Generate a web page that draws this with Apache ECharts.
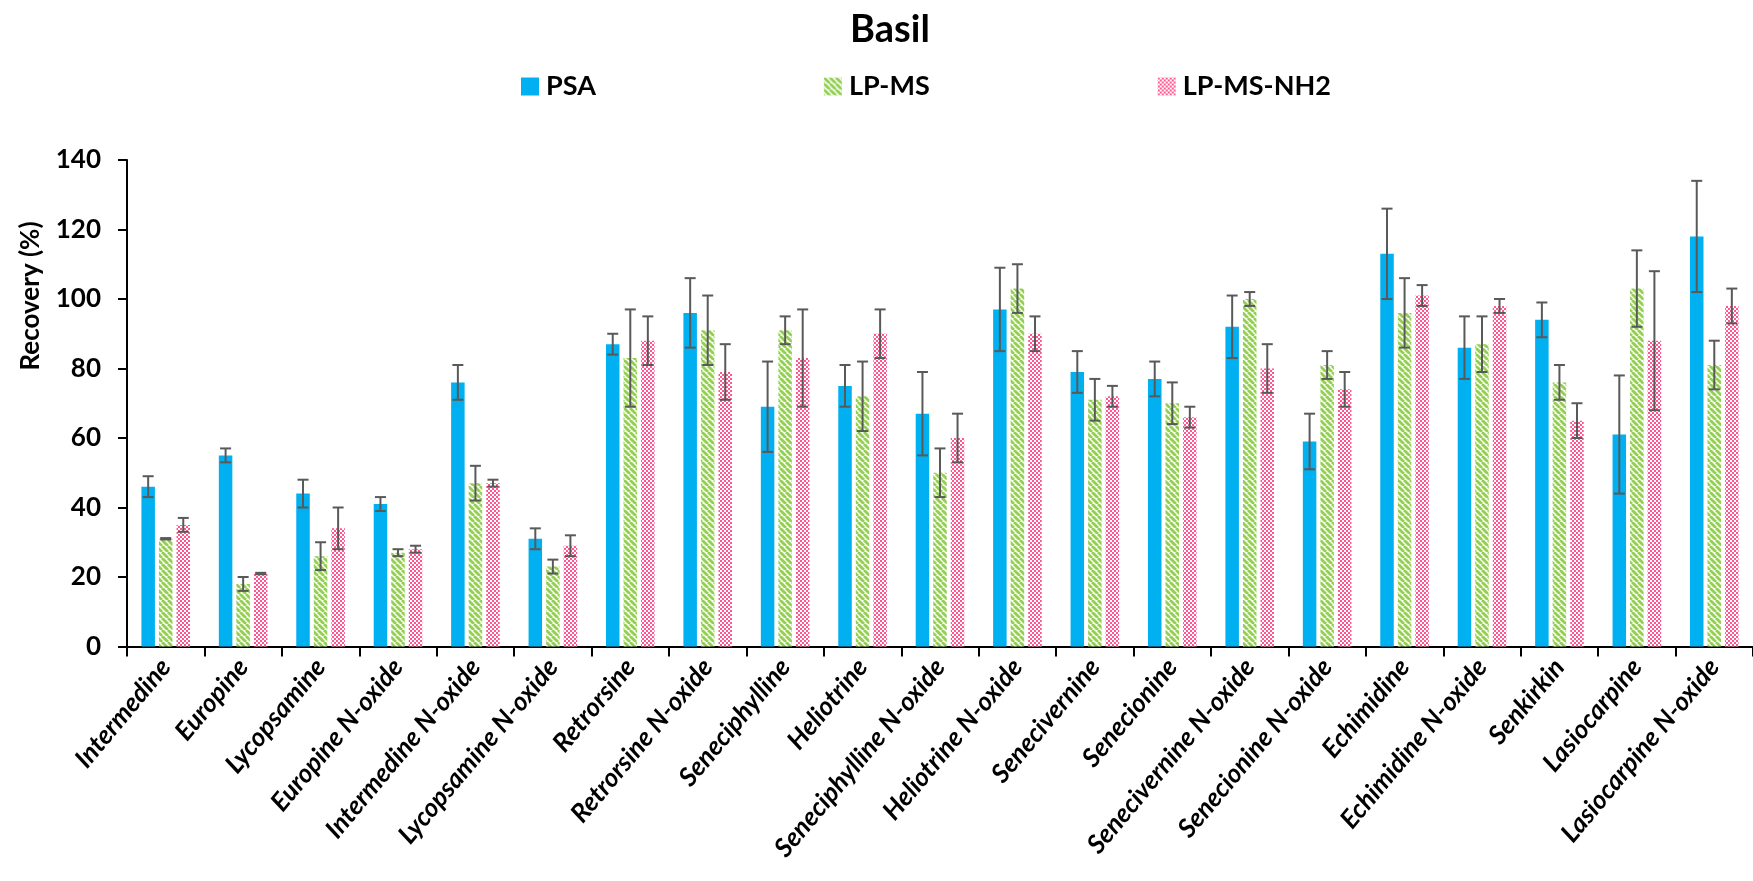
<!DOCTYPE html>
<html>
<head>
<meta charset="utf-8">
<script src="https://cdn.jsdelivr.net/npm/echarts@6/dist/echarts.min.js"></script>
<style>
html,body{margin:0;padding:0;background:#fff;}
#chart{width:1753px;height:881px;}
</style>
</head>
<body>
<div id="chart"></div>
<script>
const categories = ['Intermedine','Europine','Lycopsamine','Europine N-oxide','Intermedine N-oxide','Lycopsamine N-oxide','Retrorsine','Retrorsine N-oxide','Seneciphylline','Heliotrine','Seneciphylline N-oxide','Heliotrine N-oxide','Senecivernine','Senecionine','Senecivernine N-oxide','Senecionine N-oxide','Echimidine','Echimidine N-oxide','Senkirkin','Lasiocarpine','Lasiocarpine N-oxide'];
const seriesNames = ['PSA','LP-MS','LP-MS-NH2'];
const psa      = [46, 55, 44, 41, 76, 31, 87, 96, 69, 75, 67, 97, 79, 77, 92, 59, 113, 86, 94, 61, 118];
const psaErr   = [3, 2, 4, 2, 5, 3, 3, 10, 13, 6, 12, 12, 6, 5, 9, 8, 13, 9, 5, 17, 16];
const lpms     = [31, 18, 26, 27, 47, 23, 83, 91, 91, 72, 50, 103, 71, 70, 100, 81, 96, 87, 76, 103, 81];
const lpmsErr  = [0.2, 2, 4, 1, 5, 2, 14, 10, 4, 10, 7, 7, 6, 6, 2, 4, 10, 8, 5, 11, 7];
const nh2      = [35, 21, 34, 28, 47, 29, 88, 79, 83, 90, 60, 90, 72, 66, 80, 74, 101, 98, 65, 88, 98];
const nh2Err   = [2, 0.2, 6, 1, 1, 3, 7, 8, 14, 7, 7, 5, 3, 3, 7, 5, 3, 2, 5, 20, 5];
const yMin = 0, yMax = 140, yInterval = 20;
const yTitle = 'Recovery (%)';
const chartTitle = 'Basil';

const FONT = 'Lato, "Open Sans", "Noto Sans", sans-serif';
const BAR_W = 13.5, BAR_GAP = 0.3;
const BAR_STEP = BAR_W * (1 + BAR_GAP);

function stripeTile() {
  const c = document.createElement('canvas');
  c.width = 6; c.height = 6;
  const g = c.getContext('2d');
  g.fillStyle = '#ffffff'; g.fillRect(0, 0, 6, 6);
  g.strokeStyle = '#92D050'; g.lineWidth = 2.8;
  for (let k = -6; k <= 6; k += 6) {
    g.beginPath(); g.moveTo(k, 0); g.lineTo(k + 6, 6); g.stroke();
  }
  return c;
}
function checkerTile() {
  const c = document.createElement('canvas');
  c.width = 4; c.height = 4;
  const g = c.getContext('2d');
  g.fillStyle = '#ffffff'; g.fillRect(0, 0, 4, 4);
  g.fillStyle = '#FF5590';
  g.fillRect(0, 0, 2, 2); g.fillRect(2, 2, 2, 2);
  return c;
}
const fills = [
  '#00B0F0',
  { image: stripeTile(), repeat: 'repeat' },
  { image: checkerTile(), repeat: 'repeat' }
];
const values = [psa, lpms, nh2];
const errs = [psaErr, lpmsErr, nh2Err];

function errRender(k) {
  return function (params, api) {
    const i = api.value(0);
    const lo = api.coord([i, api.value(1)]);
    const hi = api.coord([i, api.value(2)]);
    const x = lo[0] + (k - 1) * BAR_STEP;
    const hw = 5.5;
    const st = { stroke: '#595959', lineWidth: 2 };
    return {
      type: 'group',
      children: [
        { type: 'line', shape: { x1: x, y1: hi[1], x2: x, y2: lo[1] }, style: st },
        { type: 'line', shape: { x1: x - hw, y1: hi[1], x2: x + hw, y2: hi[1] }, style: st },
        { type: 'line', shape: { x1: x - hw, y1: lo[1], x2: x + hw, y2: lo[1] }, style: st }
      ]
    };
  };
}

const series = [];
seriesNames.forEach((name, k) => {
  series.push({
    name: name,
    type: 'bar',
    data: values[k],
    barWidth: BAR_W,
    barGap: (BAR_GAP * 100) + '%',
    itemStyle: { color: fills[k] },
    emphasis: { disabled: true },
    z: 2
  });
});
seriesNames.forEach((name, k) => {
  series.push({
    name: name + ' err',
    type: 'custom',
    renderItem: errRender(k),
    data: values[k].map((v, i) => [i, v - errs[k][i], v + errs[k][i]]),
    encode: { x: 0, y: [1, 2] },
    z: 5,
    silent: true
  });
});

const chart = echarts.init(document.getElementById('chart'), null, { renderer: 'canvas' });
chart.setOption({
  animation: false,
  backgroundColor: '#ffffff',
  textStyle: { fontFamily: FONT },
  title: {
    text: chartTitle,
    left: 885,
    textAlign: 'center',
    top: 6,
    textStyle: { fontFamily: FONT, fontWeight: 'bold', fontSize: 38, color: '#000' }
  },
  legend: {
    data: seriesNames,
    left: 516,
    top: 68,
    itemWidth: 18,
    itemHeight: 18,
    itemGap: 228,
    icon: 'rect',
    selectedMode: false,
    textStyle: { fontFamily: FONT, fontWeight: 'bold', fontSize: 27, color: '#000', padding: [0, 0, 0, 2] }
  },
  graphic: [{
    type: 'text',
    x: 31,
    y: 296,
    rotation: Math.PI / 2,
    style: {
      text: yTitle,
      fontFamily: FONT, fontWeight: 'bold', fontSize: 26, fill: '#000',
      align: 'center', verticalAlign: 'middle'
    }
  }],
  grid: { left: 127, right: -13, top: 160, bottom: 234.5, containLabel: false },
  xAxis: {
    type: 'category',
    data: categories,
    axisLine: { lineStyle: { color: '#000', width: 2 } },
    axisTick: { show: true, length: 10, lineStyle: { color: '#000', width: 2 } },
    axisLabel: {
      interval: 0, rotate: 50, margin: 16,
      fontFamily: FONT, fontWeight: 'bold', fontStyle: 'italic', fontSize: 26, color: '#000'
    }
  },
  yAxis: {
    type: 'value',
    min: yMin, max: yMax, interval: yInterval,
    axisLine: { show: true, lineStyle: { color: '#000', width: 2 } },
    axisTick: { show: true, length: 9, lineStyle: { color: '#000', width: 2 } },
    axisLabel: { margin: 26, fontFamily: FONT, fontWeight: 'bold', fontSize: 26, color: '#000' },
    splitLine: { show: false }
  },
  series: series
});
</script>
</body>
</html>
